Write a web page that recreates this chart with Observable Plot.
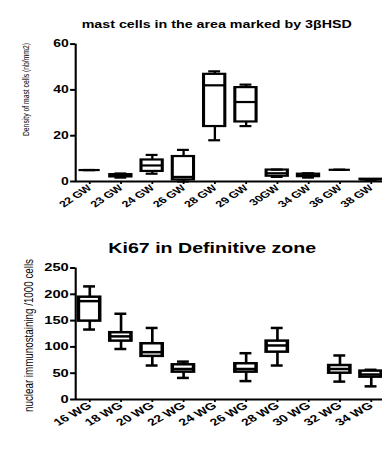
<!DOCTYPE html>
<html>
<head>
<meta charset="utf-8">
<script src="https://cdn.jsdelivr.net/npm/d3@7"></script>
<script src="https://cdn.jsdelivr.net/npm/@observablehq/plot@0.6"></script>
<style>
  html, body { margin: 0; padding: 0; background: white; }
  #wrap { width: 382px; height: 453px; overflow: hidden; }
  #wrap svg { display: block; }
</style>
</head>
<body>
<div id="wrap"></div>
<script>
// ---- data: top chart (mast cells) ----
const mastTitle = "mast cells in the area marked by 3βHSD";
const mastYLabel = "Density of mast cells (nb/mm2)";
const mastCats = ["22 GW", "23 GW", "24 GW", "26 GW", "28 GW", "29 GW", "30GW", "34 GW", "36 GW", "38 GW"];
const mastMin  = [5.0, 1.7, 3.4, 0.0, 18.0, 24.2, 2.0, 1.7, 5.1, 0.8];
const mastQ1   = [5.0, 2.0, 4.4, 0.7, 24.0, 26.0, 2.3, 2.1, 5.1, 0.8];
const mastMed  = [5.0, 2.5, 7.0, 2.0, 42.0, 34.7, 3.6, 2.7, 5.1, 0.9];
const mastQ3   = [5.0, 3.0, 9.4, 10.9, 46.8, 41.0, 5.0, 3.2, 5.1, 1.0];
const mastMax  = [5.0, 3.5, 11.6, 13.8, 48.1, 42.3, 5.2, 3.6, 5.1, 1.0];
const mastTicks = [0, 20, 40, 60];

// ---- data: bottom chart (Ki67) ----
const kiTitle = "Ki67 in Definitive zone";
const kiYLabel = "nuclear immunostaining /1000 cells";
const kiCats = ["16 WG", "18 WG", "20 WG", "22 WG", "24 WG", "26 WG", "28 WG", "30 WG", "32 WG", "34 WG"];
const kiMin  = [133, 96, 64.6, 41, null, 35, 64.6, null, 34, 25];
const kiQ1   = [149, 111, 82, 52, null, 52, 90, null, 50, 42.5];
const kiMed  = [187, 120, 90, 58, null, 58, 102.7, null, 58, 47.5];
const kiQ3   = [194.5, 127, 106, 66, null, 68, 111, null, 64.6, 54];
const kiMax  = [215, 163, 136, 72, null, 88, 136, null, 83.7, 56.5];
const kiTicks = [0, 50, 100, 150, 200, 250];

const FONT = "Liberation Sans, Arial, Helvetica, sans-serif";
const W = 273;            // internal width; stretched horizontally to 382px
const OUT_W = 382;

function rowsOf(cats, mn, q1, md, q3, mx) {
  return cats.map((c, i) => ({i, c, min: mn[i], q1: q1[i], med: md[i], q3: q3[i], max: mx[i]}))
             .filter(d => d.med != null);
}

function boxMarks(rows, sw) {
  const hw = 0.34, cw = 0.19;
  return [
    Plot.ruleX(rows, {x: "i", y1: "min", y2: "max", stroke: "black", strokeWidth: sw * 0.75}),
    Plot.rect(rows, {x1: d => d.i - hw, x2: d => d.i + hw, y1: "q1", y2: "q3", fill: "white", stroke: "black", strokeWidth: sw}),
    Plot.ruleY(rows, {x1: d => d.i - hw, x2: d => d.i + hw, y: "med", stroke: "black", strokeWidth: sw}),
    Plot.ruleY(rows, {x1: d => d.i - cw, x2: d => d.i + cw, y: "max", stroke: "black", strokeWidth: sw}),
    Plot.ruleY(rows, {x1: d => d.i - cw, x2: d => d.i + cw, y: "min", stroke: "black", strokeWidth: sw})
  ];
}

function chart(opts) {
  const {cats, rows, title, ylabel, yTicks, yMax, height, mTop, mBottom, sw, rot,
         tickFont, xFont, titleFont, titleDx, titleDy, ylFont, ylDx, ylDy} = opts;
  const xLeft = -0.45;
  const svg = Plot.plot({
    width: W,
    height,
    marginLeft: 53.6,
    marginRight: 0,
    marginTop: mTop,
    marginBottom: mBottom,
    style: {fontFamily: FONT, fontSize: "10px", color: "black", background: "white", overflow: "hidden"},
    x: {type: "linear", domain: [xLeft, 9.5], range: [53.6, 276]},
    y: {domain: [0, yMax]},
    marks: [
      Plot.axisY({ticks: yTicks, tickSize: 3.5, tickPadding: 1.5, fontSize: tickFont, fontWeight: "bold", strokeWidth: 2, label: null, tickFormat: d => String(d)}),
      Plot.axisX({ticks: d3.range(cats.length), tickFormat: i => cats[i], tickRotate: rot, tickSize: 3, tickPadding: 2, fontSize: xFont, fontWeight: "bold", strokeWidth: 1.3, label: null}),
      Plot.ruleY([0], {stroke: "black", strokeWidth: 2.2}),
      Plot.ruleX([xLeft], {y1: 0, y2: yMax, stroke: "black", strokeWidth: 1.5}),
      ...boxMarks(rows, sw),
      Plot.text([title], {text: d => d, frameAnchor: "top", lineAnchor: "bottom", dx: titleDx, dy: titleDy, fontSize: titleFont, fontWeight: "bold", fill: "black"}),
      Plot.text([ylabel], {text: d => d, frameAnchor: "left", textAnchor: "middle", lineAnchor: "middle", rotate: -90, dx: ylDx, dy: ylDy, fontSize: ylFont, fill: "black"})
    ]
  });
  svg.setAttribute("width", OUT_W);
  svg.setAttribute("height", height);
  svg.setAttribute("viewBox", `0 0 ${W} ${height}`);
  svg.setAttribute("preserveAspectRatio", "none");
  svg.style.width = OUT_W + "px";
  svg.style.height = height + "px";
  svg.style.maxWidth = "none";
  return svg;
}

const wrap = document.getElementById("wrap");

wrap.appendChild(chart({
  cats: mastCats,
  rows: rowsOf(mastCats, mastMin, mastQ1, mastMed, mastQ3, mastMax),
  title: mastTitle, ylabel: mastYLabel, yTicks: mastTicks, yMax: 60,
  height: 228, mTop: 43.6, mBottom: 47, sw: 2.2, rot: -43,
  tickFont: 10, xFont: 9, titleFont: 10.2, titleDx: -8.9, titleDy: -16.3,
  ylFont: 6.8, ylDx: -35.7, ylDy: -23.3
}));

wrap.appendChild(chart({
  cats: kiCats,
  rows: rowsOf(kiCats, kiMin, kiQ1, kiMed, kiQ3, kiMax),
  title: kiTitle, ylabel: kiYLabel, yTicks: kiTicks, yMax: 250,
  height: 225, mTop: 39.5, mBottom: 54, sw: 2.5, rot: -38,
  tickFont: 10.5, xFont: 10, titleFont: 14, titleDx: -12.1, titleDy: -14.8,
  ylFont: 9.8, ylDx: -33.6, ylDy: 1.75
}));
</script>
</body>
</html>
